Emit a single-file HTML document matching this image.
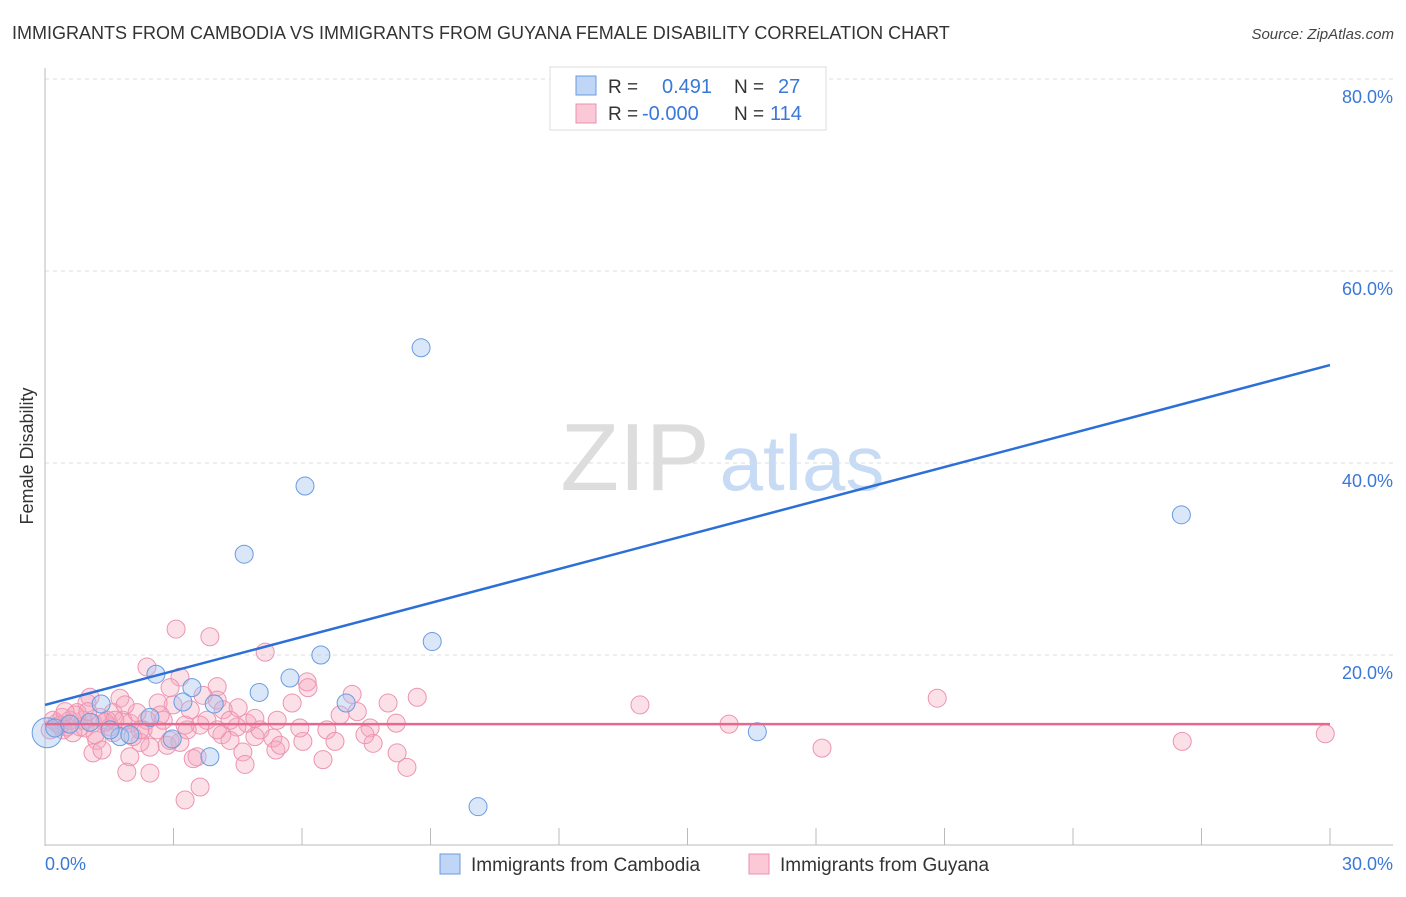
<!DOCTYPE html>
<html><head><meta charset="utf-8"><style>
body{margin:0;background:#fff;font-family:"Liberation Sans",sans-serif;}
svg text{font-family:"Liberation Sans",sans-serif;}
</style></head><body>
<svg id="chart" width="1406" height="892" xmlns="http://www.w3.org/2000/svg">
<text x="12" y="39" font-size="18" fill="#333">IMMIGRANTS FROM CAMBODIA VS IMMIGRANTS FROM GUYANA FEMALE DISABILITY CORRELATION CHART</text>
<text x="1394" y="39" font-size="15" fill="#444" font-style="italic" text-anchor="end">Source: ZipAtlas.com</text>
<text transform="translate(33,456) rotate(-90)" font-size="18" fill="#333" text-anchor="middle">Female Disability</text>
<g>
<text x="635" y="490" font-size="96" fill="#ddd" font-family="Liberation Serif" text-anchor="middle">ZIP</text>
<text x="802" y="490" font-size="78" fill="#c8dbf4" text-anchor="middle">atlas</text>
</g>
<g id="grid"></g>
<g id="pts"></g>
<g id="lines"></g>
<g>
<rect x="550" y="67" width="276" height="63" fill="#fff" stroke="#ddd"/>
<rect x="576" y="76" width="20" height="19" fill="#c0d6f6" stroke="#6a9be0"/>
<rect x="576" y="104" width="20" height="19" fill="#fbc8d8" stroke="#ec8fae"/>
<text x="608" y="93" font-size="19" fill="#333">R =</text>
<text x="662" y="93" font-size="20" fill="#3a78d8">0.491</text>
<text x="734" y="93" font-size="19" fill="#333">N =</text>
<text x="778" y="93" font-size="20" fill="#3a78d8">27</text>
<text x="608" y="120" font-size="19" fill="#333">R =</text>
<text x="642" y="120" font-size="20" fill="#3a78d8">-0.000</text>
<text x="734" y="120" font-size="19" fill="#333">N =</text>
<text x="770" y="120" font-size="20" fill="#3a78d8">114</text>
</g>
<g>
<rect x="440" y="854" width="20" height="20" fill="#c0d6f6" stroke="#6a9be0"/>
<text x="471" y="871" font-size="19" fill="#333">Immigrants from Cambodia</text>
<rect x="749" y="854" width="20" height="20" fill="#fbc8d8" stroke="#ec8fae"/>
<text x="780" y="871" font-size="19" fill="#333">Immigrants from Guyana</text>
</g>
</svg>
<script>
const blueX=[15.04,8.78,6.07,4.65,26.53,9.04,6.44,2.59,3.43,5.72,5.0,1.31,3.95,7.03,2.45,3.22,2.97,1.75,3.85,10.11,16.63,0.05,0.23,1.98,0.58,1.52,1.05];
const blueY=[75.7,52.0,37.6,30.5,34.6,21.4,20.0,18.0,16.6,17.6,16.1,14.9,14.9,15.0,13.5,15.1,11.25,11.5,9.4,4.2,12.0,11.9,12.4,11.7,12.8,12.2,13.0];
const pinkX=[3.06,3.85,5.14,2.38,3.15,4.02,6.12,6.14,7.17,8.01,8.69,5.77,7.29,8.20,7.59,6.58,6.77,7.66,6.02,5.42,5.32,5.39,4.90,5.02,4.51,4.72,4.48,4.13,3.78,3.69,4.02,4.16,3.39,2.99,2.64,2.92,2.38,2.29,1.98,1.75,1.05,0.98,1.52,1.21,1.12,1.33,1.98,1.91,2.45,4.62,4.67,6.49,8.22,8.45,3.55,3.46,3.62,3.27,2.85,3.15,2.45,2.22,2.05,1.59,0.82,0.58,0.42,0.28,0.65,0.89,1.28,1.59,1.82,2.15,2.62,2.76,3.32,4.02,4.32,0.19,0.12,0.40,0.51,0.75,1.12,1.45,13.89,15.97,18.14,20.83,26.55,29.89,0.70,0.93,0.35,1.40,1.63,1.17,0.47,1.0,2.22,1.87,2.69,3.62,4.32,4.90,5.49,5.95,6.89,7.47,3.27,2.92];
const pinkY=[22.7,21.9,20.3,18.75,17.7,16.7,17.2,16.6,15.9,15.0,15.6,15.0,14.1,12.9,12.4,12.2,11.0,10.8,11.0,13.2,11.35,10.1,11.5,12.2,14.5,12.9,12.5,11.7,13.2,15.8,15.3,14.3,14.3,14.8,15.0,16.6,13.2,12.2,12.9,15.5,15.6,15.0,12.5,11.1,9.8,10.1,9.4,7.8,7.7,9.9,8.6,9.1,9.8,8.3,9.4,9.2,6.25,4.9,10.6,10.9,10.4,10.9,11.5,11.9,12.5,13.2,12.2,12.9,11.9,13.2,13.5,14.0,13.2,14.0,12.2,13.2,12.2,12.2,11.1,13.2,12.2,13.5,12.5,14.0,12.9,13.2,14.8,12.8,10.3,15.5,11.0,11.8,13.75,12.4,12.7,13.0,13.2,11.7,14.1,14.1,12.2,14.8,13.75,12.7,13.2,13.4,10.6,12.4,13.75,11.7,12.7,11.1];
const yTicks=[20,40,60,80];
const yTickLabels=["20.0%","40.0%","60.0%","80.0%"];
const xTickLabels=["0.0%","30.0%"];
const blueLine=[14.8,50.2];
const pinkLine=[12.8,12.8];
const NS="http://www.w3.org/2000/svg";
const X=v=>45+v/30*1285;
const Y=v=>847-v*9.6;
function mk(tag,attrs,parent){const e=document.createElementNS(NS,tag);for(const k in attrs)e.setAttribute(k,attrs[k]);parent.appendChild(e);return e;}
const grid=document.getElementById('grid');
yTicks.forEach((t,i)=>{
  const l=mk('line',{x1:45,x2:1393,y1:Y(t),y2:Y(t),stroke:'#ddd','stroke-dasharray':'4,4'},grid);
  
  
  const tx=mk('text',{x:1393,y:Y(t)+24,'font-size':18,fill:'#3a78d8','text-anchor':'end'},grid);
  tx.textContent=yTickLabels[i];
  
  
});
const ya=mk('line',{x1:45,x2:45,y1:68,y2:846,stroke:'#bbb'},grid);


const xa=mk('line',{x1:45,x2:1393,y1:845,y2:845,stroke:'#bbb'},grid);


for(let i=1;i<=10;i++){
  const tk=mk('line',{x1:X(i*3),x2:X(i*3),y1:828,y2:845,stroke:'#bbb'},grid);
  
  
}
const xl0=mk('text',{x:45,y:870,'font-size':18,fill:'#3a78d8'},grid);xl0.textContent=xTickLabels[0];


const xl1=mk('text',{x:1393,y:870,'font-size':18,fill:'#3a78d8','text-anchor':'end'},grid);xl1.textContent=xTickLabels[1];


const pts=document.getElementById('pts');
pinkX.forEach((v,i)=>{
  const c=mk('circle',{cx:X(v),cy:Y(pinkY[i]),r:9,fill:'rgba(246,165,190,0.35)',stroke:'#ec94b1','stroke-width':1},pts);
  
  
});
blueX.forEach((v,i)=>{
  const c=mk('circle',{cx:X(v),cy:Y(blueY[i]),r:i==21?15:9,fill:'rgba(160,195,240,0.4)',stroke:'#6a9be0','stroke-width':1},pts);
  
  
});
const lines=document.getElementById('lines');
const bl=mk('line',{x1:X(0),x2:X(30),y1:Y(blueLine[0]),y2:Y(blueLine[1]),stroke:'#2c6fd6','stroke-width':2.5},lines);


const pl=mk('line',{x1:X(0),x2:X(30),y1:Y(pinkLine[0]),y2:Y(pinkLine[1]),stroke:'#e86790','stroke-width':2.5},lines);


</script>
</body></html>
